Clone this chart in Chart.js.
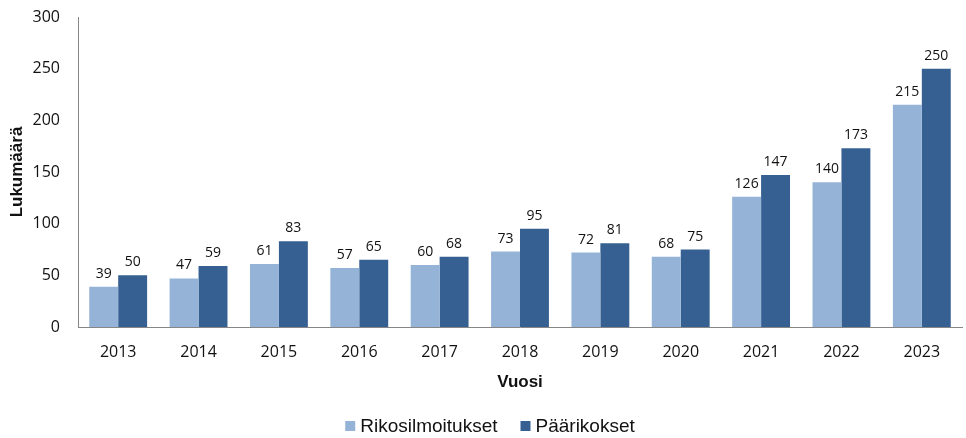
<!DOCTYPE html>
<html>
<head>
<meta charset="utf-8">
<script src="https://cdn.jsdelivr.net/npm/chart.js@4/dist/chart.umd.min.js"></script>
<style>
html,body{margin:0;padding:0;background:#fff;}
#wrap{width:966px;height:438px;position:relative;}
</style>
</head>
<body>
<div id="wrap"><canvas id="c" width="966" height="438"></canvas></div>
<script>
const categories = ['2013','2014','2015','2016','2017','2018','2019','2020','2021','2022','2023'];
const rikosilmoitukset = [39, 47, 61, 57, 60, 73, 72, 68, 126, 140, 215];
const paarikokset = [50, 59, 83, 65, 68, 95, 81, 75, 147, 173, 250];
const seriesNames = ['Rikosilmoitukset', 'Päärikokset'];
const yTicks = [0, 50, 100, 150, 200, 250, 300];

const valueLabels = {
  id: 'valueLabels',
  afterDatasetsDraw(chart) {
    const ctx = chart.ctx;
    ctx.save();
    ctx.font = '14px "Open Sans"';
    ctx.fillStyle = '#111';
    ctx.textAlign = 'center';
    ctx.textBaseline = 'alphabetic';
    chart.data.datasets.forEach((ds, i) => {
      const meta = chart.getDatasetMeta(i);
      meta.data.forEach((bar, j) => {
        ctx.fillText(String(ds.data[j]), bar.x, bar.y - 9);
      });
    });
    ctx.restore();
  }
};

// Legend drawn from the chart's own datasets (labels + colours)
const bottomLegend = {
  id: 'bottomLegend',
  afterDraw(chart) {
    const ctx = chart.ctx;
    ctx.save();
    ctx.font = '19px "Liberation Sans", Arial';
    ctx.textBaseline = 'middle';
    ctx.textAlign = 'left';
    const box = 10, gapText = 5, gapItem = 23;
    const items = chart.data.datasets.map(ds => ({ text: ds.label, color: ds.backgroundColor, w: ctx.measureText(ds.label).width }));
    let total = 0;
    items.forEach((it, i) => { total += box + gapText + it.w + (i < items.length - 1 ? gapItem : 0); });
    let x = 490 - total / 2;
    const cy = 426;
    items.forEach(it => {
      ctx.fillStyle = it.color;
      ctx.fillRect(x, cy - box / 2, box, box);
      x += box + gapText;
      ctx.fillStyle = '#111';
      ctx.fillText(it.text, x, cy + 1);
      x += it.w + gapItem;
    });
    ctx.restore();
  }
};

new Chart(document.getElementById('c'), {
  type: 'bar',
  data: {
    labels: categories,
    datasets: [
      { label: seriesNames[0], data: rikosilmoitukset, backgroundColor: '#95B3D7', categoryPercentage: 0.72, barPercentage: 1.0 },
      { label: seriesNames[1], data: paarikokset, backgroundColor: '#366092', categoryPercentage: 0.72, barPercentage: 1.0 }
    ]
  },
  options: {
    responsive: false,
    animation: false,
    layout: { padding: { left: 0, right: 4, top: 17, bottom: 40 } },
    plugins: {
      tooltip: { enabled: false },
      legend: { display: false }
    },
    scales: {
      x: {
        grid: { display: false, drawTicks: false },
        border: { display: true, color: '#868686', width: 1 },
        ticks: { color: '#111', padding: 16, font: { family: '"Open Sans"', size: 16 } },
        title: { display: true, text: 'Vuosi', color: '#111', padding: { top: 0, bottom: 5 }, font: { family: '"Liberation Sans", Arial', size: 17, weight: 'bold' } },
        afterFit(scale) { scale.height = 71; }
      },
      y: {
        min: 0, max: 300,
        grid: { display: false, drawTicks: false },
        border: { display: true, color: '#868686', width: 1 },
        afterBuildTicks(scale) { scale.ticks = yTicks.map(v => ({ value: v })); },
        ticks: { color: '#111', padding: 18, font: { family: '"Open Sans"', size: 16 } },
        title: { display: true, text: 'Lukumäärä', color: '#111', padding: { top: 7, bottom: 0 }, font: { family: '"Liberation Sans", Arial', size: 17, weight: 'bold' } },
        afterFit(scale) { scale.width = 78; scale.paddingTop = 0; scale.paddingBottom = 0; }
      }
    }
  },
  plugins: [valueLabels, bottomLegend]
});
</script>
</body>
</html>
